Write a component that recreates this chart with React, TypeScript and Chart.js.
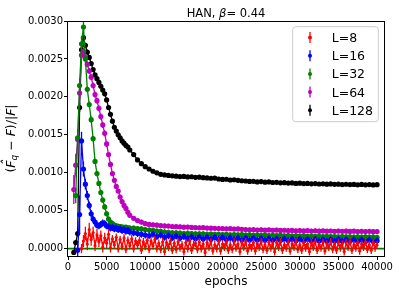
import { useEffect, useRef } from "react";
import { Chart, registerables } from "chart.js";

Chart.register(...registerables);

const FONT = "DejaVu Sans";

const TITLE_PLAIN = "HAN, ";
const TITLE_GREEK = "β";
const TITLE_VALUE = "= 0.44";
const X_LABEL = "epochs";

const X_TICKS = [0, 5000, 10000, 15000, 20000, 25000, 30000, 35000, 40000];
const Y_TICKS = [0, 0.0005, 0.001, 0.0015, 0.002, 0.0025, 0.003];

const EPOCHS = [
  750, 1000, 1250, 1500, 1750, 2000, 2250, 2500, 2750, 3000,
  3250, 3500, 3750, 4000, 4250, 4500, 4750, 5000, 5250, 5500,
  5750, 6000, 6250, 6500, 6750, 7000, 7250, 7500, 7750, 8000,
  8500, 9000, 9500, 10000, 10500, 11000, 11500, 12000, 12500, 13000,
  13500, 14000, 14500, 15000, 15500, 16000, 16500, 17000, 17500, 18000,
  18500, 19000, 19500, 20000, 20500, 21000, 21500, 22000, 22500, 23000,
  23500, 24000, 24500, 25000, 25500, 26000, 26500, 27000, 27500, 28000,
  28500, 29000, 29500, 30000, 30500, 31000, 31500, 32000, 32500, 33000,
  33500, 34000, 34500, 35000, 35500, 36000, 36500, 37000, 37500, 38000,
  38500, 39000, 39500, 40000,
];

// L=8 is logged more densely
const EPOCHS_L8 = [
  1750, 2000, 2250, 2500, 2750, 3000, 3250, 3500, 3750, 4000,
  4250, 4500, 4750, 5000, 5250, 5500, 5750, 6000, 6250, 6500,
  6750, 7000, 7250, 7500, 7750, 8000, 8250, 8500, 8750, 9000,
  9250, 9500, 9750, 10000, 10250, 10500, 10750, 11000, 11250, 11500,
  11750, 12000, 12250, 12500, 12750, 13000, 13250, 13500, 13750, 14000,
  14250, 14500, 14750, 15000, 15250, 15500, 15750, 16000, 16250, 16500,
  16750, 17000, 17250, 17500, 17750, 18000, 18250, 18500, 18750, 19000,
  19250, 19500, 19750, 20000, 20250, 20500, 20750, 21000, 21250, 21500,
  21750, 22000, 22250, 22500, 22750, 23000, 23250, 23500, 23750, 24000,
  24250, 24500, 24750, 25000, 25250, 25500, 25750, 26000, 26250, 26500,
  26750, 27000, 27250, 27500, 27750, 28000, 28250, 28500, 28750, 29000,
  29250, 29500, 29750, 30000, 30250, 30500, 30750, 31000, 31250, 31500,
  31750, 32000, 32250, 32500, 32750, 33000, 33250, 33500, 33750, 34000,
  34250, 34500, 34750, 35000, 35250, 35500, 35750, 36000, 36250, 36500,
  36750, 37000, 37250, 37500, 37750, 38000, 38250, 38500, 38750, 39000,
  39250, 39500, 39750, 40000,
];

const L8 = [
  0, 10e-5, 20e-5, 6e-5, 25e-5, 12e-5, 21e-5, 4e-5, 18e-5, 9e-5,
  17e-5, 2e-5, 14e-5, 7e-5, 19e-5, 1e-5, 13e-5, 5e-5, 15e-5, 0,
  12e-5, 3e-5, 14e-5, -1e-5, 11e-5, 4e-5, 13e-5, 0, 10e-5, 5e-5,
  11e-5, -2e-5, 9e-5, 3e-5, 11e-5, -1e-5, 10e-5, 4e-5, 12e-5, 0,
  7e-5, -1e-5, 9e-5, -4e-5, 8e-5, 2e-5, 10e-5, -2e-5, 7e-5, -1e-5,
  9e-5, 1e-5, 5e-5, -4e-5, 8e-5, 0, 10e-5, -2e-5, 5e-5, 7e-5,
  -1e-5, 9e-5, 0, 6e-5, -5e-5, 8e-5, 2e-5, 9e-5, -3e-5, 5e-5,
  0, 10e-5, -3e-5, 6e-5, 2e-5, 8e-5, -2e-5, 5e-5, -1e-5, 9e-5,
  1e-5, 6e-5, -4e-5, 8e-5, 2e-5, 9e-5, -3e-5, 5e-5, 1e-5, 8e-5,
  -3e-5, 6e-5, 2e-5, 9e-5, -1e-5, 5e-5, -2e-5, 8e-5, 1e-5, 6e-5,
  -4e-5, 8e-5, 2e-5, 9e-5, -2e-5, 5e-5, 1e-5, 8e-5, -3e-5, 6e-5,
  2e-5, 9e-5, -1e-5, 5e-5, -2e-5, 8e-5, 1e-5, 6e-5, -4e-5, 8e-5,
  2e-5, 9e-5, -2e-5, 5e-5, 1e-5, 8e-5, -3e-5, 6e-5, 2e-5, 9e-5,
  -1e-5, 5e-5, -2e-5, 8e-5, 1e-5, 6e-5, -4e-5, 8e-5, 2e-5, 9e-5,
  -2e-5, 5e-5, 1e-5, 8e-5, -3e-5, 6e-5, 2e-5, 9e-5, -1e-5, 5e-5,
  -2e-5, 8e-5, 1e-5, 5e-5,
];

const L16 = [
  null, null, -0.00002, 0.00045, 0.00142, 0.00105, 0.00085, 0.0007, 0.00057, 0.00046,
  0.00039, 0.00035, 0.00031, 0.0003, 0.00032, 0.00034, 0.00033, 0.0003, 0.00029, 0.00027,
  0.00028, 0.00026, 0.00027, 0.00025, 0.00026, 0.00024, 0.00025, 0.00023, 0.00024, 0.00022,
  0.00021, 0.0002, 0.00019, 0.00018, 0.00017, 0.00019, 0.00016, 0.00018, 0.00015, 0.00017,
  0.000145, 0.000165, 0.00014, 0.00016, 0.000135, 0.000155, 0.00013, 0.000152, 0.000128, 0.00015,
  0.000125, 0.000148, 0.000122, 0.000145, 0.00012, 0.000142, 0.000118, 0.00014, 0.000117, 0.000138,
  0.000115, 0.000136, 0.000113, 0.000134, 0.000112, 0.000132, 0.00011, 0.00013, 0.000108, 0.000128,
  0.000107, 0.000127, 0.000105, 0.000125, 0.000104, 0.000124, 0.000102, 0.000122, 0.000101, 0.00012,
  0.0001, 0.000119, 0.000099, 0.000118, 0.000098, 0.000117, 0.000097, 0.000116, 0.000096, 0.000115,
  0.000095, 0.000114, 0.000094, 0.000105,
];

const L32 = [
  null, 0.0007, 0.00146, 0.00215, 0.0027, 0.00292, 0.0025, 0.0021, 0.0019, 0.0017,
  0.00145, 0.00115, 0.00099, 0.00086, 0.00074, 0.00064, 0.00055, 0.00046, 0.00039, 0.00035,
  0.00033, 0.00031, 0.0003, 0.000295, 0.00029, 0.000285, 0.00028, 0.000282, 0.000275, 0.00027,
  0.000272, 0.000265, 0.00026, 0.000252, 0.000245, 0.00024, 0.000232, 0.000228, 0.00022, 0.000215,
  0.00021, 0.000208, 0.000205, 0.0002, 0.000203, 0.000198, 0.000196, 0.000194, 0.000196, 0.00019,
  0.000192, 0.000188, 0.00019, 0.000186, 0.000188, 0.000183, 0.000186, 0.000181, 0.000184, 0.000179,
  0.000182, 0.000177, 0.00018, 0.000175, 0.000178, 0.000173, 0.000176, 0.000171, 0.000174, 0.000169,
  0.000172, 0.000167, 0.00017, 0.000165, 0.000168, 0.000163, 0.000166, 0.000161, 0.000164, 0.00016,
  0.000162, 0.000158, 0.00016, 0.000156, 0.000159, 0.000155, 0.000157, 0.000153, 0.000156, 0.000152,
  0.000155, 0.000151, 0.000154, 0.00015,
];

const L64 = [
  0.00078, 0.0011, 0.00144, 0.00205, 0.00255, 0.0026, 0.00252, 0.00243, 0.00234, 0.00226,
  0.00215, 0.00203, 0.00195, 0.00185, 0.00174, 0.00163, 0.00152, 0.00138, 0.00124, 0.00111,
  0.00099, 0.0009, 0.00082, 0.00076, 0.00068, 0.00062, 0.00057, 0.00053, 0.00048, 0.00044,
  0.0004, 0.00037, 0.00035, 0.00033, 0.00032, 0.000315, 0.00031, 0.000305, 0.0003, 0.000298,
  0.000292, 0.00029, 0.000288, 0.000283, 0.000285, 0.00028, 0.000278, 0.000275, 0.000277, 0.000272,
  0.00027, 0.000268, 0.000266, 0.000265, 0.000262, 0.000263, 0.000258, 0.00026, 0.000255, 0.000252,
  0.000248, 0.000251, 0.000246, 0.000249, 0.000244, 0.000247, 0.000242, 0.000245, 0.00024, 0.000243,
  0.000238, 0.000241, 0.000236, 0.000239, 0.000234, 0.000237, 0.000233, 0.000236, 0.000231, 0.000234,
  0.00023, 0.000233, 0.000229, 0.000232, 0.000228, 0.000231, 0.000227, 0.00023, 0.000226, 0.000229,
  0.000225, 0.000228, 0.000224, 0.000226,
];

const L128 = [
  -0.00005, 0.00008, 0.0002, 0.00186, 0.00262, 0.00278, 0.00268, 0.00259, 0.00252, 0.00244,
  0.00236, 0.00229, 0.00224, 0.00219, 0.00214, 0.00209, 0.00204, 0.00196, 0.00186, 0.00177,
  0.00168, 0.0016, 0.00155, 0.0015, 0.00146, 0.00142, 0.00139, 0.00136, 0.00134, 0.0013,
  0.00124, 0.00117, 0.00112, 0.00108, 0.00105, 0.00102, 0.001, 0.00098, 0.000972, 0.000965,
  0.00096, 0.000955, 0.00095, 0.000952, 0.000945, 0.000948, 0.00094, 0.000942, 0.000935, 0.000932,
  0.000928, 0.00093, 0.000918, 0.000912, 0.000915, 0.000905, 0.000908, 0.0009, 0.000895, 0.000892,
  0.000886, 0.000888, 0.00088, 0.000884, 0.000876, 0.000879, 0.000872, 0.000874, 0.000868, 0.00087,
  0.000864, 0.000866, 0.00086, 0.000863, 0.000858, 0.00086, 0.000855, 0.000858, 0.000852, 0.000855,
  0.00085, 0.000853, 0.000848, 0.00085, 0.000845, 0.000849, 0.000844, 0.000847, 0.000842, 0.000846,
  0.000841, 0.000845, 0.00084, 0.000843,
];

// error bar half-widths: early points first, then one value for the rest
const ERR_L8_EARLY = [0.00006, 0.00008, 0.00009, 0.00008, 0.00009, 0.00008, 0.00008, 0.00007, 0.00008, 0.00007,
  0.00007, 0.00007, 0.00007, 0.00006, 0.00007, 0.00006];
const ERR_L8_TAIL = 0.00005;
const ERR_L16_EARLY = [0, 0, 0.00008, 0.00025, 0.00012, 0.0001, 0.00007, 0.00006, 0.00005, 0.00005];
const ERR_L16_TAIL = 0.000045;
const ERR_L32_EARLY = [0, 0.0001, 0.00012, 0.0001, 0.0001, 0.00008, 0.00005, 0.00004, 0.00004, 0.00004];
const ERR_L32_TAIL = 0.000035;
const ERR_L64_EARLY = [0.00019, 0.00015, 0.0001, 0.00008, 0.00006, 0.00005, 0.00004, 0.00004, 0.00004, 0.00004,
  0.00004, 0.00004, 0.00004, 0.00004, 0.00004, 0.00004, 0.00004, 0.00004, 0.00003, 0.00003];
const ERR_L64_TAIL = 0.00003;
const ERR_L128_EARLY = [0.00003, 0.00003, 0.00004, 0.00006, 0.00005, 0.00004, 0.00003, 0.00003];
const ERR_L128_TAIL = 0.00002;

const SERIES = [
  { label: "L=8", epochs: EPOCHS_L8, values: L8, color: "#ff0000", errEarly: ERR_L8_EARLY, errTail: ERR_L8_TAIL },
  { label: "L=16", epochs: EPOCHS, values: L16, color: "#0000ff", errEarly: ERR_L16_EARLY, errTail: ERR_L16_TAIL },
  { label: "L=32", epochs: EPOCHS, values: L32, color: "#008000", errEarly: ERR_L32_EARLY, errTail: ERR_L32_TAIL },
  { label: "L=64", epochs: EPOCHS, values: L64, color: "#bf00bf", errEarly: ERR_L64_EARLY, errTail: ERR_L64_TAIL },
  { label: "L=128", epochs: EPOCHS, values: L128, color: "#000000", errEarly: ERR_L128_EARLY, errTail: ERR_L128_TAIL },
];

type Run = { t: string; f: string; dy?: number; hat?: boolean };

function drawRuns(ctx: CanvasRenderingContext2D, runs: Run[], cx: number, baseY: number) {
  let total = 0;
  for (const r of runs) {
    ctx.font = r.f;
    total += ctx.measureText(r.t).width;
  }
  let x = cx - total / 2;
  for (const r of runs) {
    ctx.font = r.f;
    const w = ctx.measureText(r.t).width;
    ctx.fillText(r.t, x, baseY + (r.dy || 0));
    if (r.hat) {
      const hw = ctx.measureText("\u02C6").width;
      ctx.fillText("\u02C6", x + (w - hw) / 2 + 1.5, baseY - 3.4);
    }
    x += w;
  }
}

const errorBarPlugin = {
  id: "errorBars",
  beforeDatasetDraw(chart: any, args: any) {
    const ds = chart.data.datasets[args.index];
    if (!ds.errors) return;
    const xs = chart.scales.x;
    const ys = chart.scales.y;
    const a = chart.chartArea;
    const ctx = chart.ctx as CanvasRenderingContext2D;
    ctx.save();
    ctx.beginPath();
    ctx.rect(a.left, a.top, a.right - a.left, a.bottom - a.top);
    ctx.clip();
    ctx.strokeStyle = ds.borderColor;
    ctx.lineWidth = 1.3;
    ctx.beginPath();
    ds.data.forEach((p: any, i: number) => {
      const e = ds.errors[i];
      if (p.y === null || p.y === undefined || !e) return;
      const px = xs.getPixelForValue(p.x);
      ctx.moveTo(px, ys.getPixelForValue(p.y - e));
      ctx.lineTo(px, ys.getPixelForValue(p.y + e));
    });
    ctx.stroke();
    ctx.restore();
  },
};

const decorPlugin = {
  id: "decor",
  beforeDatasetsDraw(chart: any) {
    const a = chart.chartArea;
    const ys = chart.scales.y;
    const ctx = chart.ctx as CanvasRenderingContext2D;
    const y0 = ys.getPixelForValue(0);
    ctx.save();
    ctx.strokeStyle = "#008000";
    ctx.lineWidth = 1.8;
    ctx.beginPath();
    ctx.moveTo(a.left, y0);
    ctx.lineTo(a.right, y0);
    ctx.stroke();
    ctx.restore();
  },
  afterDraw(chart: any) {
    const a = chart.chartArea;
    const ctx = chart.ctx as CanvasRenderingContext2D;
    ctx.save();
    ctx.strokeStyle = "#000";
    ctx.lineWidth = 1;
    ctx.strokeRect(Math.floor(a.left) - 0.5, Math.floor(a.top) + 0.5, Math.round(a.right - a.left) + 1, Math.round(a.bottom - a.top));
    ctx.fillStyle = "#000";
    ctx.textBaseline = "alphabetic";
    const tf = `11.5px "${FONT}"`;
    const tfi = `italic 11.5px "${FONT}"`;
    drawRuns(ctx, [
      { t: TITLE_PLAIN, f: tf },
      { t: TITLE_GREEK, f: tfi },
      { t: TITLE_VALUE, f: tf },
    ], (a.left + a.right) / 2, 16.8);
    ctx.save();
    ctx.translate(14.5, (a.top + a.bottom) / 2);
    ctx.rotate(-Math.PI / 2);
    const nf = `12.5px "${FONT}"`;
    const itf = `italic 12.5px "${FONT}"`;
    drawRuns(ctx, [
      { t: "(", f: nf },
      { t: "F", f: itf, hat: true },
      { t: "q", f: `italic 9px "${FONT}"`, dy: 2.6 },
      { t: " \u2212 ", f: nf },
      { t: "F", f: itf },
      { t: ")/|", f: nf },
      { t: "F", f: itf },
      { t: "|", f: nf },
    ], 0, 0);
    ctx.restore();
    const lx0 = 292.7, ly0 = 26.7, lx1 = 378.3, ly1 = 121.7;
    ctx.fillStyle = "rgba(255,255,255,0.8)";
    ctx.strokeStyle = "#cccccc";
    ctx.lineWidth = 1;
    ctx.beginPath();
    (ctx as any).roundRect(lx0, ly0, lx1 - lx0, ly1 - ly0, 3);
    ctx.fill();
    ctx.stroke();
    chart.data.datasets.forEach((ds: any, i: number) => {
      const cy = 37.5 + i * 18.2;
      ctx.strokeStyle = ds.borderColor;
      ctx.fillStyle = ds.borderColor;
      ctx.lineWidth = 1.3;
      ctx.beginPath();
      ctx.moveTo(310, cy - 5.5);
      ctx.lineTo(310, cy + 5.5);
      ctx.stroke();
      ctx.beginPath();
      ctx.arc(310, cy, 2, 0, Math.PI * 2);
      ctx.fill();
      ctx.fillStyle = "#000";
      ctx.font = `12.5px "${FONT}"`;
      ctx.fillText(ds.label, 331.7, cy + 4.5);
    });
    ctx.restore();
  },
};

export default function App() {
  const ref = useRef<HTMLCanvasElement>(null);
  useEffect(() => {
    document.body.style.margin = "0";
    const canvas = ref.current;
    if (!canvas) return;
    const datasets = SERIES.map((s) => ({
      label: s.label,
      data: s.epochs.map((x, i) => ({ x, y: s.values[i] })),
      errors: s.epochs.map((_, i) => (i < s.errEarly.length ? s.errEarly[i] : s.errTail)),
      borderColor: s.color,
      backgroundColor: s.color,
      borderWidth: 1.3,
      pointRadius: s.label === "L=8" ? 1.6 : 2.6,
      pointBorderWidth: 0,
      pointBackgroundColor: s.color,
      pointHoverRadius: 0,
      spanGaps: false,
      tension: 0,
    }));
    const tickFont = { family: FONT, size: 10 };
    const chart = new Chart(canvas, {
      type: "line",
      data: { datasets } as any,
      options: {
        animation: false,
        responsive: false,
        devicePixelRatio: 1,
        events: [],
        layout: { padding: { left: 0, right: 15, top: 21, bottom: 0 } },
        plugins: {
          legend: { display: false },
          title: { display: false },
          tooltip: { enabled: false },
        },
        scales: {
          x: {
            type: "linear",
            min: 0,
            max: 40900,
            afterFit: (s: any) => { s.height = 38; },
            afterBuildTicks: (s: any) => { s.ticks = X_TICKS.map((v) => ({ value: v })); },
            ticks: { font: tickFont, color: "#000", padding: 1, maxRotation: 0, autoSkip: false, callback: (v: any) => String(v) },
            grid: { drawOnChartArea: false, drawTicks: true, tickLength: 4, color: "#000" },
            border: { display: false },
            title: { display: true, text: X_LABEL, color: "#000", font: { family: FONT, size: 12 }, padding: { top: 0, bottom: 5 } },
          },
          y: {
            type: "linear",
            min: -0.0000965,
            max: 0.003,
            afterFit: (s: any) => { s.width = 68; },
            afterBuildTicks: (s: any) => { s.ticks = Y_TICKS.map((v) => ({ value: v })); },
            ticks: { font: tickFont, color: "#000", padding: 1, autoSkip: false, callback: (v: any) => Number(v).toFixed(4) },
            grid: { drawOnChartArea: false, drawTicks: true, tickLength: 4, color: "#000" },
            border: { display: false },
          },
        },
      } as any,
      plugins: [errorBarPlugin, decorPlugin],
    });
    return () => chart.destroy();
  }, []);
  return (
    <div style={{ width: 399, height: 294 }}>
      <canvas ref={ref} width={399} height={294} style={{ display: "block" }} />
    </div>
  );
}
